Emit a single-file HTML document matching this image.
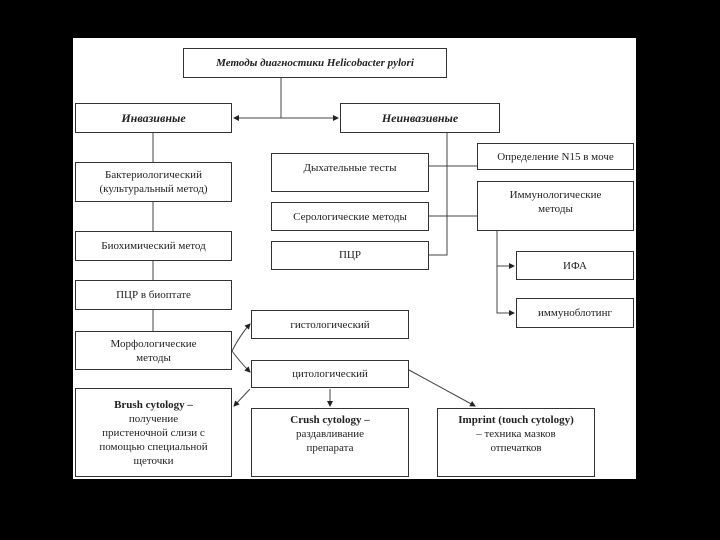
<!DOCTYPE html>
<html><head><meta charset="utf-8"><style>
body{margin:0;width:720px;height:540px;background:#000;position:relative;overflow:hidden;font-family:"Liberation Serif",serif;}
#w{position:absolute;left:73px;top:38px;width:563px;height:441px;background:#fff;}
.b{position:absolute;border:1px solid #333;background:#fff;box-sizing:border-box;display:flex;align-items:center;justify-content:center;text-align:center;font-size:11px;line-height:14px;color:#222;}
svg{position:absolute;left:0;top:0;}
</style></head><body>
<div id="w"></div>
<svg width="720" height="540">
<defs><marker id="a" markerWidth="6" markerHeight="6" refX="5" refY="3" orient="auto"><path d="M0,0L6,3L0,6z" fill="#222"/></marker></defs>
<g stroke="#444" stroke-width="1" fill="none">
<line x1="281" y1="78" x2="281" y2="118"/>
<line x1="281" y1="118" x2="234" y2="118" marker-end="url(#a)"/>
<line x1="281" y1="118" x2="338" y2="118" marker-end="url(#a)"/>
<line x1="153" y1="133" x2="153" y2="331"/>
<polyline points="447,133 447,255 429,255"/>
<line x1="429" y1="166" x2="477" y2="166"/>
<line x1="429" y1="216" x2="477" y2="216"/>
<polyline points="497,231 497,313 514,313" marker-end="url(#a)"/>
<line x1="497" y1="266" x2="514" y2="266" marker-end="url(#a)"/>
<path d="M232,351 Q240,335 250,324" marker-end="url(#a)"/>
<path d="M232,351 Q240,362 250,372" marker-end="url(#a)"/>
<line x1="250" y1="389" x2="234" y2="406" marker-end="url(#a)"/>
<line x1="330" y1="389" x2="330" y2="406" marker-end="url(#a)"/>
<line x1="409" y1="370" x2="475" y2="406" marker-end="url(#a)"/>
</g></svg>
<div class="b" style="left:183px;top:48px;width:264px;height:30px;font-style:italic;font-weight:bold;">Методы диагностики Helicobacter pylori</div>
<div class="b" style="left:75px;top:103px;width:157px;height:30px;font-style:italic;font-weight:bold;font-size:12px;">Инвазивные</div>
<div class="b" style="left:340px;top:103px;width:160px;height:30px;font-style:italic;font-weight:bold;font-size:12px;">Неинвазивные</div>
<div class="b" style="left:75px;top:162px;width:157px;height:40px;">Бактериологический<br>(культуральный метод)</div>
<div class="b" style="left:75px;top:231px;width:157px;height:30px;">Биохимический метод</div>
<div class="b" style="left:75px;top:280px;width:157px;height:30px;">ПЦР в биоптате</div>
<div class="b" style="left:75px;top:331px;width:157px;height:39px;">Морфологические<br>методы</div>
<div class="b" style="left:271px;top:153px;width:158px;height:39px;align-items:flex-start;padding-top:7px;">Дыхательные тесты</div>
<div class="b" style="left:271px;top:202px;width:158px;height:29px;">Серологические методы</div>
<div class="b" style="left:271px;top:241px;width:158px;height:29px;align-items:flex-start;padding-top:6px;">ПЦР</div>
<div class="b" style="left:477px;top:143px;width:157px;height:27px;">Определение N15 в моче</div>
<div class="b" style="left:477px;top:181px;width:157px;height:50px;align-items:flex-start;padding-top:6px;">Иммунологические<br>методы</div>
<div class="b" style="left:516px;top:251px;width:118px;height:29px;">ИФА</div>
<div class="b" style="left:516px;top:298px;width:118px;height:30px;">иммуноблотинг</div>
<div class="b" style="left:251px;top:310px;width:158px;height:29px;">гистологический</div>
<div class="b" style="left:251px;top:360px;width:158px;height:28px;">цитологический</div>
<div class="b" style="left:75px;top:388px;width:157px;height:89px;"><div><b>Brush cytology –</b><br>получение<br>пристеночной слизи с<br>помощью специальной<br>щеточки</div></div>
<div class="b" style="left:251px;top:408px;width:158px;height:69px;align-items:flex-start;padding-top:4px;"><div><b>Crush cytology –</b><br>раздавливание<br>препарата</div></div>
<div class="b" style="left:437px;top:408px;width:158px;height:69px;align-items:flex-start;padding-top:4px;"><div><b>Imprint (touch cytology)</b><br>– техника мазков<br>отпечатков</div></div>
</body></html>
